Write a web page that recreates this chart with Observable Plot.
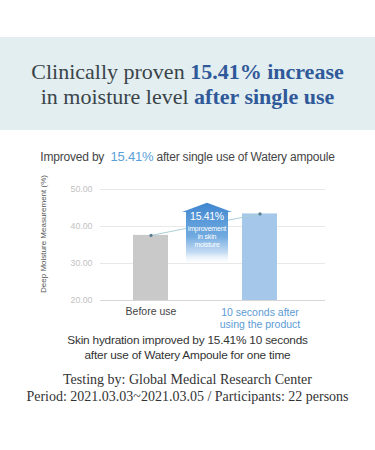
<!DOCTYPE html>
<html>
<head>
<meta charset="utf-8">
<script src="https://cdn.jsdelivr.net/npm/d3@7"></script>
<script src="https://cdn.jsdelivr.net/npm/@observablehq/plot@0.6"></script>
<style>
  html, body { margin: 0; padding: 0; background: #fff; }
  #page { position: relative; width: 375px; height: 450px; overflow: hidden; background: #fff; }
  .band { position: absolute; left: 0; top: 37px; width: 375px; height: 93px; background: #e3eef0; }
  .title { position: absolute; left: 0; width: 375px; text-align: center; font-family: "Liberation Serif", serif; font-size: 22px; color: #3a4449; line-height: 24px; }
  .title b { color: #30599a; }
  .sub { position: absolute; left: 0; top: 149px; width: 375px; text-align: center; font-family: "Liberation Sans", sans-serif; font-size: 12px; color: #454545; letter-spacing: -0.2px; }
  .sub span { color: #5aa1d9; font-size: 13px; }
  .cap { position: absolute; left: 0; width: 375px; text-align: center; font-family: "Liberation Sans", sans-serif; font-size: 11.8px; color: #333; line-height: 15px; letter-spacing: -0.2px; }
  .foot { position: absolute; left: 0; width: 375px; text-align: center; font-family: "Liberation Serif", serif; font-size: 14px; color: #333; line-height: 17px; }
  #chart { position: absolute; left: 0; top: 175px; }
  #chart svg { overflow: visible; }
</style>
</head>
<body>
<div id="page">
  <div class="band"></div>
  <div class="title" style="top:60px">Clinically proven <b>15.41% increase</b></div>
  <div class="title" style="top:85px">in moisture level <b>after single use</b></div>
  <div class="sub">Improved by &nbsp;<span>15.41%</span> after single use of Watery ampoule</div>
  <div id="chart"></div>
  <div class="cap" style="top:333px">Skin hydration improved by 15.41% 10 seconds<br>after use of Watery Ampoule for one time</div>
  <div class="foot" style="top:371px">Testing by: Global Medical Research Center<br>Period: 2021.03.03~2021.03.05 / Participants: 22 persons</div>
</div>
<script>
const categories = ["Before use", "10 seconds after\nusing the product"];
const values = [37.6, 43.4];
const yTicks = [20, 30, 40, 50];
const yLabel = "Deep Moisture Measurement (%)";
const arrowLines = ["15.41%", "improvement", "in skin", "moisture"];

const data = categories.map((c, i) => ({cat: c, value: values[i]}));

function arrowMark(index, scales, channels, dimensions, context) {
  const x = scales.x, y = scales.y;
  const bw = x.bandwidth ? x.bandwidth() : 0;
  const x0 = x(categories[0]) + bw / 2, x1 = x(categories[1]) + bw / 2;
  const cx = (x0 + x1) / 2 + 2;
  const tip = y(values[1] + 2.9);
  const headBase = y(values[1] + 0.4);
  const bottom = y(29.5);
  const hw = 25, bwid = 21;
  const ns = "http://www.w3.org/2000/svg";
  const g = document.createElementNS(ns, "g");
  const defs = document.createElementNS(ns, "defs");
  const grad = document.createElementNS(ns, "linearGradient");
  grad.setAttribute("id", "arrowGrad");
  grad.setAttribute("gradientUnits", "userSpaceOnUse");
  grad.setAttribute("x1", 0); grad.setAttribute("x2", 0);
  grad.setAttribute("y1", tip); grad.setAttribute("y2", bottom);
  [[0, "#3f86d0", 1], [0.55, "#6aa6de", 0.95], [0.8, "#a9cbee", 0.7], [1, "#ffffff", 0]].forEach(([o, c, op]) => {
    const s = document.createElementNS(ns, "stop");
    s.setAttribute("offset", o); s.setAttribute("stop-color", c); s.setAttribute("stop-opacity", op);
    grad.appendChild(s);
  });
  defs.appendChild(grad);
  g.appendChild(defs);
  const p = document.createElementNS(ns, "path");
  p.setAttribute("d", `M${cx},${tip} L${cx + hw},${headBase} L${cx + bwid},${headBase} L${cx + bwid},${bottom} L${cx - bwid},${bottom} L${cx - bwid},${headBase} L${cx - hw},${headBase} Z`);
  p.setAttribute("fill", "url(#arrowGrad)");
  g.appendChild(p);
  const offs = [15, 26, 34, 42];
  arrowLines.forEach((t, i) => {
    const tx = document.createElementNS(ns, "text");
    tx.setAttribute("x", cx);
    tx.setAttribute("y", tip + offs[i]);
    tx.setAttribute("text-anchor", "middle");
    tx.setAttribute("dominant-baseline", "middle");
    tx.setAttribute("fill", "#ffffff");
    tx.setAttribute("font-family", "Liberation Sans, sans-serif");
    tx.setAttribute("font-size", i === 0 ? 10.5 : 7);
    tx.setAttribute("letter-spacing", i === 0 ? -0.3 : -0.2);
    tx.textContent = t;
    g.appendChild(tx);
  });
  return g;
}

const plot = Plot.plot({
  width: 375,
  height: 155,
  marginTop: 14,
  marginBottom: 30,
  marginLeft: 100,
  marginRight: 50,
  style: {background: "transparent", fontFamily: "Liberation Sans, sans-serif", overflow: "visible"},
  x: {domain: categories, paddingInner: 0.682, paddingOuter: 0.364, align: 0.406, axis: null},
  y: {domain: [20, 50], axis: null},
  marks: [
    Plot.ruleY(yTicks, {stroke: d => d === 20 ? "#d6d6d6" : "#e8e8e8", strokeWidth: 1}),
    Plot.barY(data, {x: "cat", y1: 20, y2: "value", fill: d => d.cat === categories[0] ? "#c9c9c9" : "#a4c7ea"}),
    Plot.line(data, {x: "cat", y: "value", stroke: "#a9d0d6", strokeWidth: 1}),
    arrowMark,
    Plot.dot(data, {x: "cat", y: "value", r: 1.6, fill: "#5a7d90", stroke: "none"}),
    Plot.text(yTicks, {x: null, y: d => d, frameAnchor: "left", text: d => d3.format(".2f")(d), textAnchor: "end", dx: -8, fill: "#c2c2c2", fontSize: 8.8}),
    Plot.text([yLabel], {frameAnchor: "left", text: d => d, rotate: -90, textAnchor: "middle", dx: -57, dy: -11, fill: "#555", fontSize: 8}),
    Plot.text(data.filter((d, i) => i === 0), {x: "cat", y: 20, text: "cat", dy: 7, fill: "#444", fontSize: 10.5, lineAnchor: "top", letterSpacing: -0.3}),
    Plot.text(data.filter((d, i) => i === 1), {x: "cat", y: 20, text: "cat", dy: 7, fill: "#5b9bd5", fontSize: 10.5, lineAnchor: "top", lineHeight: 1.15})
  ]
});
document.getElementById("chart").appendChild(plot);
</script>
</body>
</html>
